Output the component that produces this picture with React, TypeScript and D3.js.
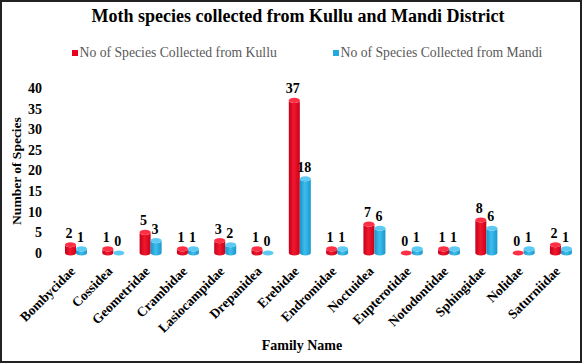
import React, { useEffect } from "react";
import * as d3 from "d3";

const categories = ["Bombycidae","Cossidea","Geometridae","Crambidae","Lasiocampidae","Drepanidea","Erebidae","Endromidae","Noctuidea","Eupterotidae","Notodontidae","Sphingidae","Nolidae","Saturniidae"];
const kullu = [2,1,5,1,3,1,37,1,7,0,1,8,0,2];
const mandi = [1,0,3,1,2,0,18,1,6,1,1,6,1,1];
const yTicks = [0,5,10,15,20,25,30,35,40];
const seriesNames = ["No of Species Collected from Kullu","No of Species Collected from Mandi"];

const W = 582, H = 363;
const FONT = "'Liberation Serif', 'Times New Roman', serif";

export default function App() {
  useEffect(() => { document.body.style.margin = "0"; }, []);
  const x0 = d3.scaleBand<string>().domain(categories).range([57.35, 579.6]).paddingInner(0.41).paddingOuter(0.205);
  const x1 = d3.scaleBand<string>().domain(["k","m"]).range([0, x0.bandwidth()]);
  const y = d3.scaleLinear().domain([0, 40]).range([253, 88]);
  const ry = 2.6;

  const cyl = (x: number, w: number, v: number, grad: string, top: string, key: string) => {
    const yb = y(0), yt = y(v);
    const rx = w / 2;
    const d = `M${x},${yt} L${x},${yb} A${rx},${ry} 0 0 0 ${x + w},${yb} L${x + w},${yt} A${rx},${ry} 0 0 1 ${x},${yt} Z`;
    return (
      <g key={key}>
        <path d={d} fill={`url(#${grad})`} />
        <ellipse cx={x + rx} cy={yt} rx={rx} ry={ry} fill={top} />
      </g>
    );
  };

  return (
    <svg width={W} height={H} style={{ position: "absolute", left: 0, top: 0, background: "#fff" }} fontFamily={FONT}>
      <defs>
        <linearGradient id="gr" x1="0" x2="1" y1="0" y2="0">
          <stop offset="0" stopColor="#c4001a" />
          <stop offset="0.45" stopColor="#f0182e" />
          <stop offset="1" stopColor="#cc0019" />
        </linearGradient>
        <linearGradient id="gb" x1="0" x2="1" y1="0" y2="0">
          <stop offset="0" stopColor="#1b93c9" />
          <stop offset="0.45" stopColor="#3dbdec" />
          <stop offset="1" stopColor="#1b98cf" />
        </linearGradient>
      </defs>
      <rect x={1} y={1} width={W - 2} height={H - 2} fill="#fff" stroke="#222" strokeWidth={2} />
      <text x={298} y={22} textAnchor="middle" fontWeight="bold" fontSize={18} fill="#000">Moth species collected from Kullu and Mandi District</text>

      <rect x={72} y={50} width={6} height={6} fill="#e8001d" />
      <text x={79.5} y={56.5} fontSize={13.7} fill="#595959" fontFamily={FONT}>{seriesNames[0]}</text>
      <rect x={333} y={50} width={6} height={6} fill="#22a9e1" />
      <text x={340.5} y={56.5} fontSize={13.7} fill="#595959" fontFamily={FONT}>{seriesNames[1]}</text>

      {yTicks.map(t => (
        <text key={t} x={42} y={y(t)} dy="0.35em" textAnchor="end" fontWeight="bold" fontSize={14} fill="#000">{t}</text>
      ))}
      <text transform={`translate(21,171) rotate(-90)`} textAnchor="middle" fontWeight="bold" fontSize={13.5} fill="#000">Number of Species</text>

      {categories.map((c, i) => {
        const bx = x0(c)!;
        const xk = bx + x1("k")!, xm = bx + x1("m")!;
        const w = x1.bandwidth();
        return (
          <g key={c}>
            {cyl(xk, w, kullu[i], "gr", "#ff3046", "k")}
            {cyl(xm, w, mandi[i], "gb", "#5ccaf2", "m")}
            <text x={xk + w / 2 - 1.5} y={y(kullu[i]) - 7} textAnchor="middle" fontWeight="bold" fontSize={14} fill="#000">{kullu[i]}</text>
            <text x={xm + w / 2 - 1} y={y(mandi[i]) - 7} textAnchor="middle" fontWeight="bold" fontSize={14} fill="#000">{mandi[i]}</text>
            <text transform={`translate(${bx + x0.bandwidth() / 2},${272}) rotate(-45)`} textAnchor="end" fontWeight="bold" fontSize={13.5} fill="#000">{c}</text>
          </g>
        );
      })}

      <text x={302} y={350} textAnchor="middle" fontWeight="bold" fontSize={14} fill="#000">Family Name</text>
    </svg>
  );
}
